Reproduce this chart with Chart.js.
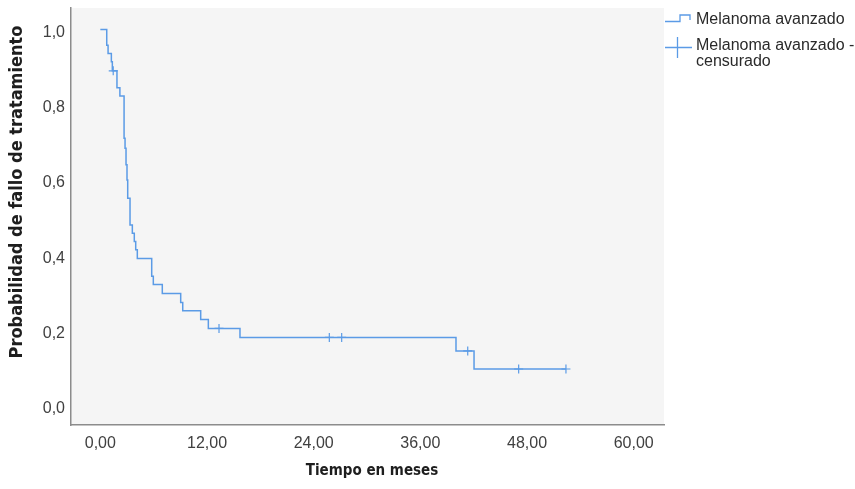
<!DOCTYPE html>
<html>
<head>
<meta charset="utf-8">
<script src="https://cdn.jsdelivr.net/npm/chart.js@4.4.1/dist/chart.umd.min.js"></script>
<style>
html, body { margin: 0; padding: 0; background: #fff; }
</style>
</head>
<body>
<canvas id="km" width="855" height="489"></canvas>
<script>
// Kaplan-Meier steps: time of each drop (months) and the value after it
const stepTimes = [0, 0.72, 0.87, 1.24, 1.35, 1.87, 2.2, 2.67, 2.78, 2.89, 3.0, 3.08, 3.34, 3.6, 3.82, 3.98, 4.16, 5.78, 5.96, 6.97, 9.04, 9.27, 11.29, 12.15, 15.71, 40.01, 42.04, 52.38];
const stepValues = [1.0, 0.958, 0.936, 0.914, 0.890, 0.845, 0.823, 0.711, 0.684, 0.640, 0.600, 0.551, 0.480, 0.458, 0.436, 0.414, 0.391, 0.344, 0.322, 0.298, 0.274, 0.252, 0.229, 0.205, 0.181, 0.145, 0.097, 0.097];

// censored cases
const censorTimes = [1.45, 13.35, 25.76, 27.15, 41.33, 47.06, 52.38];
const censorValues = [0.890, 0.205, 0.181, 0.181, 0.145, 0.097, 0.097];

const xTicks = [0, 12, 24, 36, 48, 60];
const xTickLabels = ['0,00', '12,00', '24,00', '36,00', '48,00', '60,00'];
const yTicks = [0, 0.2, 0.4, 0.6, 0.8, 1.0];
const yTickLabels = ['0,0', '0,2', '0,4', '0,6', '0,8', '1,0'];

const seriesName = 'Melanoma avanzado';
const censorName = ['Melanoma avanzado -', 'censurado'];
const xTitle = 'Tiempo en meses';
const yTitle = 'Probabilidad de fallo de tratamiento';

const blue = '#5b9be6';
const font = "'Liberation Sans', Arial, sans-serif";
const titleFont = "'Liberation Sans Narrow', 'DejaVu Sans Condensed', 'Liberation Sans', sans-serif";

// grey plot background
const plotBg = {
    id: 'plotBg',
    beforeDraw(chart) {
        const a = chart.chartArea;
        const ctx = chart.ctx;
        ctx.save();
        ctx.fillStyle = '#f5f5f5';
        ctx.fillRect(a.left, a.top, a.right - a.left, a.bottom - a.top);
        ctx.restore();
    }
};

// axis titles and legend drawn by hand (SPSS style)
const extras = {
    id: 'extras',
    afterDraw(chart) {
        const ctx = chart.ctx;
        ctx.save();
        ctx.fillStyle = '#1e1e1e';
        ctx.textAlign = 'center';
        ctx.textBaseline = 'middle';
        ctx.font = 'bold 15px ' + titleFont;
        ctx.fillText(xTitle, 372, 471);
        ctx.font = 'bold 18px ' + titleFont;
        ctx.translate(17, 192);
        ctx.rotate(-Math.PI / 2);
        ctx.fillText(yTitle, 0, 0);
        ctx.restore();

        // legend
        ctx.save();
        ctx.strokeStyle = blue;
        ctx.lineWidth = 1.3;
        ctx.beginPath();
        ctx.moveTo(665, 21.5);
        ctx.lineTo(680, 21.5);
        ctx.lineTo(680, 15);
        ctx.lineTo(690, 15);
        ctx.lineTo(690, 20);
        ctx.moveTo(665, 47.5);
        ctx.lineTo(692, 47.5);
        ctx.moveTo(677.5, 37);
        ctx.lineTo(677.5, 58);
        ctx.stroke();
        ctx.fillStyle = '#2a2a2a';
        ctx.font = '16px ' + font;
        ctx.textAlign = 'left';
        ctx.textBaseline = 'alphabetic';
        ctx.fillText(seriesName, 696, 24);
        ctx.fillText(censorName[0], 696, 50);
        ctx.fillText(censorName[1], 696, 66);
        ctx.restore();
    }
};

const ctx = document.getElementById('km').getContext('2d');
const kmChart = new Chart(ctx, {
    type: 'line',
    data: {
        datasets: [{
            label: seriesName,
            data: stepTimes.map((t, i) => ({ x: t, y: stepValues[i] })),
            borderColor: blue,
            borderWidth: 1.5,
            stepped: 'before',
            pointRadius: 0,
            fill: false
        }, {
            label: censorName.join(' '),
            data: censorTimes.map((t, i) => ({ x: t, y: censorValues[i] })),
            showLine: false,
            pointStyle: 'cross',
            pointRadius: 4.5,
            borderColor: blue,
            borderWidth: 1.2
        }]
    },
    options: {
        responsive: false,
        animation: false,
        layout: { padding: { left: 0, top: 8, right: 191, bottom: 0 } },
        plugins: {
            legend: { display: false },
            tooltip: { enabled: false }
        },
        scales: {
            x: {
                type: 'linear',
                min: -3.30,
                max: 63.41,
                afterBuildTicks: s => { s.ticks = xTicks.map(v => ({ value: v })); },
                afterFit: s => { s.height = 64; s.paddingLeft = 0; s.paddingRight = 0; },
                grid: { color: 'rgba(0,0,0,0)', drawTicks: false },
                border: { display: true, color: '#8c8c8c', width: 1.5 },
                ticks: {
                    padding: 9,
                    color: '#404040',
                    font: { family: font, size: 16 },
                    callback: (v, i) => xTickLabels[i]
                }
            },
            y: {
                type: 'linear',
                min: -0.0519,
                max: 1.0572,
                afterBuildTicks: s => { s.ticks = yTicks.map(v => ({ value: v })); },
                afterFit: s => { s.width = 71; s.paddingTop = 0; s.paddingBottom = 0; },
                grid: { color: 'rgba(0,0,0,0)', drawTicks: false },
                border: { display: true, color: '#8c8c8c', width: 1.5 },
                ticks: {
                    padding: 6,
                    labelOffset: 3,
                    color: '#404040',
                    font: { family: font, size: 16 },
                    callback: (v, i) => yTickLabels[i]
                }
            }
        }
    },
    plugins: [plotBg, extras]
});
</script>
</body>
</html>
